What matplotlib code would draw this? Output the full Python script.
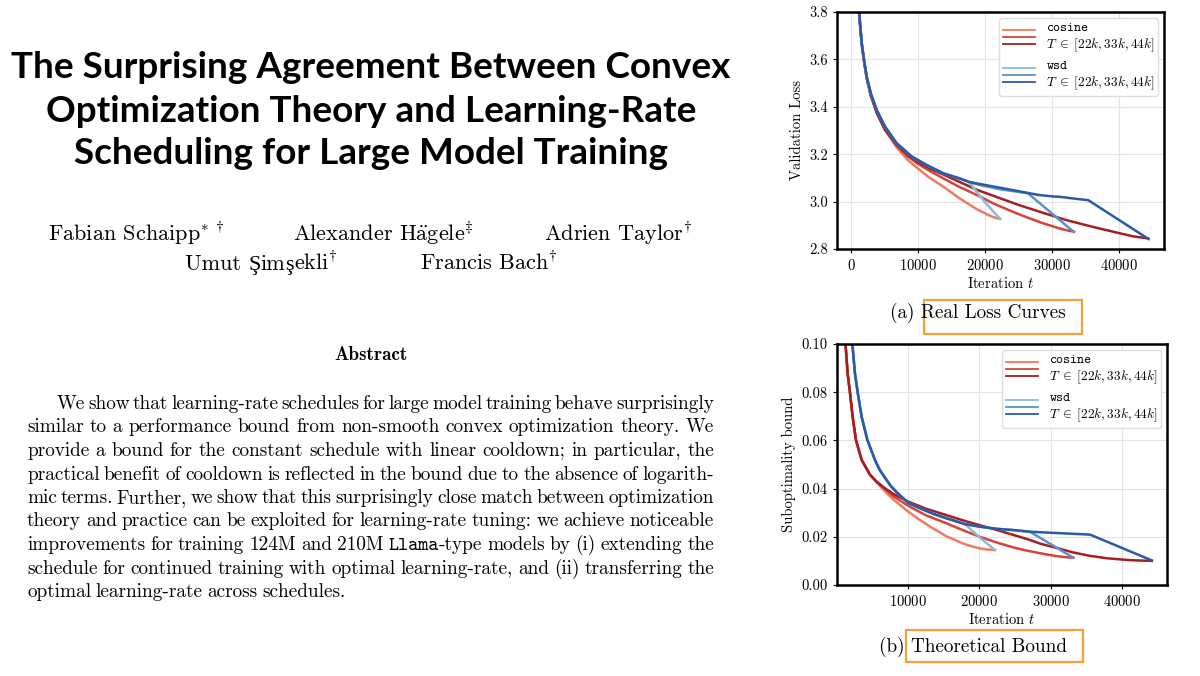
import matplotlib
matplotlib.use("Agg")
import matplotlib.pyplot as plt
from matplotlib.lines import Line2D
from matplotlib.legend_handler import HandlerBase
from matplotlib.patches import Rectangle
from matplotlib.ticker import FormatStrFormatter

plt.rcParams['font.family'] = ['cmr10', 'DejaVu Serif']
plt.rcParams['mathtext.fontset'] = 'cm'
plt.rcParams['axes.formatter.use_mathtext'] = True

# ---------------- data ----------------
# (a) real loss curves: shared warmup part (cosine runs)
loss_head_t = [1190, 1590, 1940, 2340, 2940, 3830, 5070]
loss_head_v = [3.80, 3.665, 3.592, 3.520, 3.448, 3.375, 3.303]

cos22_t = [6810, 8500, 10050, 11540, 13780, 16270, 18760, 20500, 21600, 22240]
cos22_v = [3.228, 3.175, 3.138, 3.104, 3.063, 3.012, 2.968, 2.943, 2.931, 2.927]
cos33_t = [6810, 8500, 10050, 12000, 13780, 16000, 18760, 21250, 23730, 26000, 28710, 31200, 32500, 33280]
cos33_v = [3.236, 3.190, 3.158, 3.125, 3.098, 3.064, 3.028, 2.992, 2.962, 2.936, 2.908, 2.886, 2.877, 2.873]
cos44_t = [6810, 8500, 10050, 12000, 13780, 16270, 18760, 22240, 25000, 28710, 32000, 35000, 37160, 40000, 42140, 44300]
cos44_v = [3.240, 3.195, 3.165, 3.136, 3.114, 3.082, 3.050, 3.014, 2.986, 2.952, 2.923, 2.901, 2.886, 2.867, 2.853, 2.845]

# wsd runs: constant phase, then linear cooldown
wsd_head_t = [1190, 1590, 1940, 2340, 2940, 3830, 5070, 6810, 9050, 11290, 13780, 16270, 17600]
wsd_head_v = [3.80, 3.668, 3.597, 3.527, 3.457, 3.386, 3.316, 3.246, 3.190, 3.154, 3.119, 3.097, 3.083]
wsd22_t = [19900, 22240]
wsd22_v = [3.000, 2.927]
wsd33_t = [18260, 19500, 21250, 22240, 24000, 26400, 28500, 30800, 33200]
wsd33_v = [3.077, 3.068, 3.058, 3.052, 3.045, 3.035, 2.985, 2.930, 2.873]
wsd44_t = [28000, 30000, 31200, 33500, 35400, 44400]
wsd44_v = [3.028, 3.022, 3.020, 3.012, 3.006, 2.842]

# (b) theoretical bound
bcos_head_t = [1280, 1585, 1910, 2290, 2750, 3550, 4710]
bcos_head_v = [0.1005, 0.0878, 0.0800, 0.0698, 0.0602, 0.0519, 0.0458]
bcos22_t = [5600, 6070, 6770, 7940, 10100, 11600, 13090, 15430, 17760, 19000, 20100, 21200, 22200]
bcos22_v = [0.0428, 0.0412, 0.0390, 0.0356, 0.0304, 0.0272, 0.0243, 0.0202, 0.0172, 0.0160, 0.0152, 0.0147, 0.0145]
bcos33_t = [5600, 6770, 8000, 10100, 12500, 15430, 17760, 20100, 22500, 24770, 26600, 28510, 30150, 31320, 32300, 33180]
bcos33_v = [0.0430, 0.0400, 0.0368, 0.0328, 0.0290, 0.0256, 0.0227, 0.0200, 0.0176, 0.0156, 0.0143, 0.0132, 0.0123, 0.0118, 0.0115, 0.0113]
bcos44_t = [5600, 6770, 8000, 8880, 10100, 12500, 15430, 17760, 20100, 22500, 24770, 27000, 28510, 30150, 31320, 33180, 35500, 37870, 41140, 44180]
bcos44_v = [0.0430, 0.0402, 0.0378, 0.0364, 0.0346, 0.0317, 0.0290, 0.0268, 0.0248, 0.0228, 0.0208, 0.0188, 0.0172, 0.0159, 0.0150, 0.0135, 0.0121, 0.0111, 0.0103, 0.0100]

bwsd_head_t = [2240, 2610, 2990, 3550, 4350, 5410, 6070, 6820, 7600, 8460, 8880, 10100, 12000, 13800, 15430, 17990]
bwsd_head_v = [0.1005, 0.0878, 0.0800, 0.0698, 0.0602, 0.0519, 0.0478, 0.0445, 0.0412, 0.0385, 0.0373, 0.0340, 0.0315, 0.0293, 0.0277, 0.0253]
bwsd22_t = [20100, 22200]
bwsd22_v = [0.0197, 0.0145]
bwsd33_t = [20100, 22500, 24770, 27110, 30000, 33180]
bwsd33_v = [0.0242, 0.0233, 0.0228, 0.0221, 0.0170, 0.0113]
bwsd44_t = [20100, 22500, 24770, 27110, 28510, 31320, 33500, 35530, 44180]
bwsd44_v = [0.0242, 0.0233, 0.0228, 0.0221, 0.0219, 0.0215, 0.0212, 0.0209, 0.0102]

cos_colors = ['#ef7a60', '#d4443a', '#a51f22']
wsd_colors = ['#8dbadc', '#5b92c6', '#2a5aa6']

title_lines = ["The Surprising Agreement Between Convex",
               "Optimization Theory and Learning-Rate",
               "Scheduling for Large Model Training"]

abstract_lines = [
    "We show that learning-rate schedules for large model training behave surprisingly",
    "similar to a performance bound from non-smooth convex optimization theory. We",
    "provide a bound for the constant schedule with linear cooldown; in particular, the",
    "practical benefit of cooldown is reflected in the bound due to the absence of logarith-",
    "mic terms. Further, we show that this surprisingly close match between optimization",
    "theory and practice can be exploited for learning-rate tuning: we achieve noticeable",
    "improvements for training 124M and 210M Llama-type models by (i) extending the",
    "schedule for continued training with optimal learning-rate, and (ii) transferring the",
    "optimal learning-rate across schedules.",
]

W, H = 1200, 676
fig = plt.figure(figsize=(12, 6.76), dpi=100)
renderer = fig.canvas.get_renderer()


def fx(px):
    return px / W


def fy(py):
    return 1 - py / H


def text_width(s, **kw):
    t = fig.text(0, 0, s, **kw)
    w = t.get_window_extent(renderer).width
    t.remove()
    return w


def draw_pieces(x, py, pieces, size):
    # pieces: list of (text, family) drawn side by side on one baseline
    for s, fam in pieces:
        fig.text(fx(x), fy(py), s, fontsize=size, family=fam, va='baseline')
        x += text_width(s, fontsize=size, family=fam)
    return x


# ---------------- title, authors ----------------
title_font = dict(family=['Lato', 'DejaVu Sans'], weight='bold')
tsize = 30 * 718 / text_width(title_lines[0], fontsize=30, **title_font)
for i, line in enumerate(title_lines):
    fig.text(fx(371), fy(68 + 43 * i), line, fontsize=tsize, ha='center', va='center', **title_font)

asize = 16
acc = 'Liberation Serif'
draw_pieces(48, 241, [(r"Fabian Schaipp$^{*\ \dagger}$", 'cmr10')], asize)
draw_pieces(293, 241, [(r"Alexander H$\ddot{\mathrm{a}}$gele$^{\ddagger}$", 'cmr10')], asize)
draw_pieces(544, 241, [(r"Adrien Taylor$^{\dagger}$", 'cmr10')], asize)
draw_pieces(185, 270, [("Umut ", 'cmr10'), ("Ş", acc), ("im", 'cmr10'), ("ş", acc),
                       (r"ekli$^{\dagger}$", 'cmr10')], asize)
draw_pieces(420, 270, [(r"Francis Bach$^{\dagger}$", 'cmr10')], asize)

# ---------------- abstract ----------------
fig.text(fx(371), fy(360), "Abstract", fontsize=13.8, family='cmb10', ha='center', va='baseline')

bsize = 13.85
left, right = 27, 714
for i, line in enumerate(abstract_lines):
    base = 409 + 23.5 * i
    x0 = 57 if i == 0 else left
    words = line.split(' ')
    pieces = []
    for w in words:
        if w.startswith('Llama'):
            pieces.append([('Llama', 'cmtt10'), (w[5:], 'cmr10')])
        else:
            pieces.append([(w, 'cmr10')])
    widths = [sum(text_width(p, fontsize=bsize, family=f) for p, f in wp) for wp in pieces]
    if i < len(abstract_lines) - 1:
        gap = (right - x0 - sum(widths)) / (len(words) - 1)
    else:
        gap = 4.6
    x = x0
    for wp, ww in zip(pieces, widths):
        draw_pieces(x, base, wp, bsize)
        x += ww + gap


# ---------------- plots ----------------
class LineGroup:
    def __init__(self, colors):
        self.colors = colors


class ThreeLines(HandlerBase):
    def create_artists(self, legend, orig_handle, xdescent, ydescent, width, height, fontsize, trans):
        arts = []
        for k, c in enumerate(orig_handle.colors):
            y = height * (0.92 - 0.36 * k) - ydescent
            arts.append(Line2D([-xdescent, width - xdescent], [y, y], color=c, lw=1.3, transform=trans))
        return arts


def style(ax):
    ax.grid(True, color='#e3e3e3', lw=0.8)
    ax.set_axisbelow(True)
    for s in ax.spines.values():
        s.set_linewidth(1.8)
    ax.tick_params(labelsize=10.5, length=3, width=0.8)
    ax.set_xlabel(r"Iteration $t$", fontsize=10.5, labelpad=2)
    lab = [r"$\mathtt{cosine}$" + "\n" + r"$T\;\in\;[22k, 33k, 44k]$",
           r"$\mathtt{wsd}$" + "\n" + r"$T\;\in\;[22k, 33k, 44k]$"]
    ax.legend([LineGroup(cos_colors), LineGroup(wsd_colors)], lab, loc='upper right',
              handler_map={LineGroup: ThreeLines()}, fontsize=9.6, handlelength=2.4,
              handleheight=2.0, labelspacing=0.45, framealpha=1, edgecolor='#dddddd',
              fancybox=True, borderpad=0.3, handletextpad=0.8, borderaxespad=0.45)


ax1 = fig.add_axes([fx(837), fy(249), fx(1164 - 837), (249 - 12) / H])
ax1.plot(loss_head_t + cos22_t, loss_head_v + cos22_v, color=cos_colors[0], lw=1.8)
ax1.plot(loss_head_t + cos33_t, loss_head_v + cos33_v, color=cos_colors[1], lw=1.8)
ax1.plot(loss_head_t + cos44_t, loss_head_v + cos44_v, color=cos_colors[2], lw=1.8)
ax1.plot(wsd_head_t + wsd22_t, wsd_head_v + wsd22_v, color=wsd_colors[0], lw=1.8)
ax1.plot(wsd_head_t + wsd33_t, wsd_head_v + wsd33_v, color=wsd_colors[1], lw=1.8)
ax1.plot(wsd_head_t + wsd44_t, wsd_head_v + wsd44_v, color=wsd_colors[2], lw=1.8)
ax1.set_xlim(-2100, 46700)
ax1.set_ylim(2.8, 3.8)
ax1.set_xticks([0, 10000, 20000, 30000, 40000])
ax1.set_yticks([2.8, 3.0, 3.2, 3.4, 3.6, 3.8])
ax1.yaxis.set_major_formatter(FormatStrFormatter('%.1f'))
ax1.set_ylabel("Validation Loss", fontsize=10.5)
style(ax1)

ax2 = fig.add_axes([fx(837), fy(585), fx(1167 - 837), (585 - 344) / H])
ax2.plot(bcos_head_t + bcos22_t, bcos_head_v + bcos22_v, color=cos_colors[0], lw=1.8)
ax2.plot(bcos_head_t + bcos33_t, bcos_head_v + bcos33_v, color=cos_colors[1], lw=1.8)
ax2.plot(bcos_head_t + bcos44_t, bcos_head_v + bcos44_v, color=cos_colors[2], lw=1.8)
ax2.plot(bwsd_head_t + bwsd22_t, bwsd_head_v + bwsd22_v, color=wsd_colors[0], lw=1.8)
ax2.plot(bwsd_head_t + bwsd33_t, bwsd_head_v + bwsd33_v, color=wsd_colors[1], lw=1.8)
ax2.plot(bwsd_head_t + bwsd44_t, bwsd_head_v + bwsd44_v, color=wsd_colors[2], lw=1.8)
ax2.set_xlim(100, 46300)
ax2.set_ylim(0, 0.1)
ax2.set_xticks([10000, 20000, 30000, 40000])
ax2.set_yticks([0, 0.02, 0.04, 0.06, 0.08, 0.10])
ax2.yaxis.set_major_formatter(FormatStrFormatter('%.2f'))
ax2.set_ylabel("Suboptimality bound", fontsize=10.5)
style(ax2)

# ---------------- captions with highlight boxes ----------------
orange = '#f2a23c'
fig.text(fx(978), fy(313), "(a) Real Loss Curves", fontsize=13.8, ha='center', va='center')
fig.text(fx(973), fy(647), "(b) Theoretical Bound", fontsize=13.8, ha='center', va='center')
fig.add_artist(Rectangle((fx(924), fy(334)), fx(1082 - 924), (334 - 300) / H,
                         transform=fig.transFigure, fill=False, ec=orange, lw=1.6))
fig.add_artist(Rectangle((fx(906), fy(662)), fx(1083 - 906), (662 - 630) / H,
                         transform=fig.transFigure, fill=False, ec=orange, lw=1.6))

fig.savefig("out.png", dpi=100)
